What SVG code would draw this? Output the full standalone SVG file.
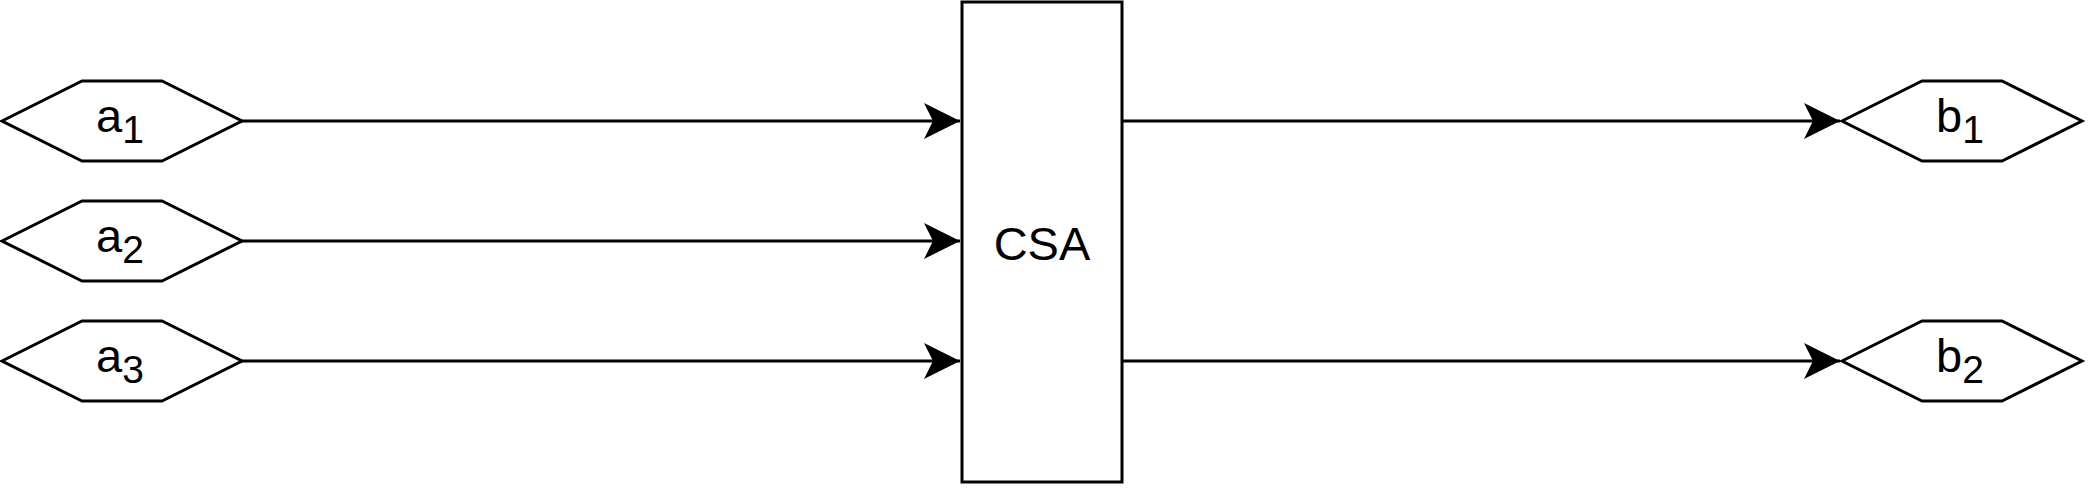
<svg xmlns="http://www.w3.org/2000/svg" width="2088" height="488" viewBox="0 0 2088 488">
<style>
.shape{fill:#fff;stroke:#000;stroke-width:3}
.edge{fill:none;stroke:#000;stroke-width:3}
text{font-family:"Liberation Sans",Arial,sans-serif;font-size:47px;fill:#000;text-anchor:middle}
.sub{font-size:39px}
</style>
<defs>
<marker id="arr" markerUnits="userSpaceOnUse" markerWidth="40" markerHeight="40" viewBox="0 0 40 40" refX="38" refY="20" orient="auto">
<path d="M38,20 L2,2 L11,20 L2,38 Z" fill="#000"/>
</marker>
</defs>
<g id="connectors">
<path class="edge" d="M242,121 H960" marker-end="url(#arr)"/>
<path class="edge" d="M242,241 H960" marker-end="url(#arr)"/>
<path class="edge" d="M242,361 H960" marker-end="url(#arr)"/>
<path class="edge" d="M1122,121 H1840" marker-end="url(#arr)"/>
<path class="edge" d="M1122,361 H1840" marker-end="url(#arr)"/>
</g>
<g id="a1">
<polygon class="shape" points="2,121 82,81 162,81 242,121 162,161 82,161"/>
<text x="120" y="132">a<tspan class="sub" dy="11">1</tspan></text>
</g>
<g id="a2">
<polygon class="shape" points="2,241 82,201 162,201 242,241 162,281 82,281"/>
<text x="120" y="252">a<tspan class="sub" dy="11">2</tspan></text>
</g>
<g id="a3">
<polygon class="shape" points="2,361 82,321 162,321 242,361 162,401 82,401"/>
<text x="120" y="372">a<tspan class="sub" dy="11">3</tspan></text>
</g>
<g id="csa">
<rect class="shape" x="962" y="2" width="160" height="480"/>
<text x="1042" y="260">CSA</text>
</g>
<g id="b1">
<polygon class="shape" points="1842,121 1922,81 2002,81 2082,121 2002,161 1922,161"/>
<text x="1960" y="132">b<tspan class="sub" dy="11">1</tspan></text>
</g>
<g id="b2">
<polygon class="shape" points="1842,361 1922,321 2002,321 2082,361 2002,401 1922,401"/>
<text x="1960" y="372">b<tspan class="sub" dy="11">2</tspan></text>
</g>
</svg>
